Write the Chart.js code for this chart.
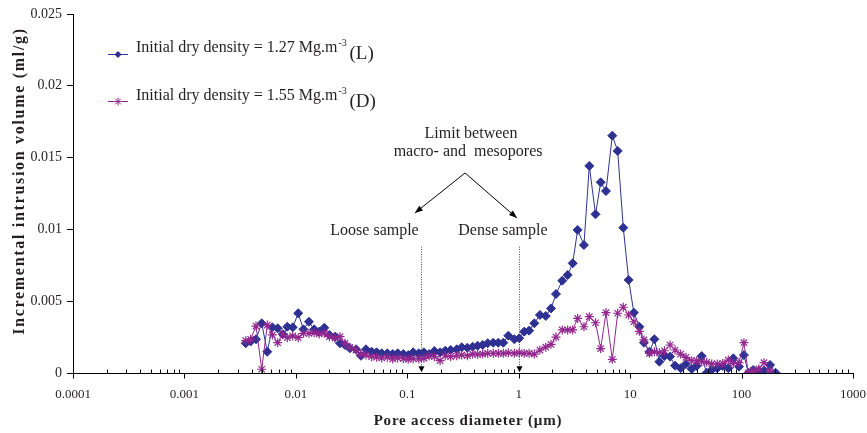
<!DOCTYPE html>
<html>
<head>
<meta charset="utf-8">
<script src="https://cdn.jsdelivr.net/npm/chart.js@4.4.0/dist/chart.umd.min.js"></script>
<style>
  body { margin: 0; background: #fff; }
  #wrap { width: 867px; height: 433px; }
</style>
</head>
<body>
<div id="wrap"><canvas id="pore-chart" width="867" height="433"></canvas></div>
<script>
// Pore access diameter (µm)
const diameters = [
  0.00355, 0.00393, 0.00439, 0.00494, 0.00554, 0.00615, 0.00687, 0.00762, 0.00838, 0.00937,
  0.0105, 0.0117, 0.0131, 0.0146, 0.0162, 0.0180, 0.0200, 0.0225, 0.0249, 0.0276,
  0.0306, 0.0347, 0.0384, 0.0426, 0.0479, 0.0531, 0.0589, 0.0662, 0.0740, 0.0820,
  0.0921, 0.102, 0.113, 0.127, 0.141, 0.157, 0.175, 0.197, 0.219, 0.245,
  0.278, 0.308, 0.346, 0.386, 0.428, 0.475, 0.527, 0.591, 0.656, 0.727,
  0.807, 0.913, 1.01, 1.12, 1.24, 1.38, 1.55, 1.75, 1.95, 2.16,
  2.46, 2.75, 3.05, 3.38, 3.85, 4.30, 4.89, 5.44, 6.07, 6.92,
  7.73, 8.68, 9.70, 10.8, 12.1, 13.3, 14.9, 16.5, 18.3, 20.3,
  22.8, 25.3, 28.4, 31.7, 35.7, 39.6, 43.9, 48.6, 53.9, 60.5,
  67.7, 76.0, 84.3, 94.8, 105, 115, 127, 143, 159, 180,
  202
];

// Incremental intrusion volume (ml/g), loose sample 1.27 Mg/m3
const volumeLoose = [
  0.00207, 0.0022, 0.00235, 0.00346, 0.00148, 0.00318, 0.00311, 0.0027, 0.00322, 0.00318,
  0.00416, 0.00304, 0.00357, 0.00304, 0.00288, 0.00315, 0.00265, 0.00253, 0.00207, 0.00195,
  0.00172, 0.00165, 0.0012, 0.00165, 0.00148, 0.00144, 0.00137, 0.00137, 0.00132, 0.00137,
  0.00132, 0.00125, 0.00144, 0.00137, 0.00144, 0.00132, 0.00153, 0.00144, 0.00155, 0.0016,
  0.00165, 0.00179, 0.00176, 0.00183, 0.0019, 0.00195, 0.00207, 0.00211, 0.00211, 0.00211,
  0.0026, 0.00235, 0.00242, 0.00288, 0.00295, 0.00346, 0.00404, 0.00397, 0.0045, 0.0055,
  0.00643, 0.00682, 0.00764, 0.00996, 0.00891, 0.01442, 0.01105, 0.01328, 0.01267, 0.01653,
  0.01546, 0.01012, 0.00648, 0.0042, 0.00322, 0.00211, 0.00148, 0.00235, 0.00079, 0.00118,
  0.00114, 0.00051, 0.00033, 0.00063, 0.00028, 0.00049, 0.00118, 0.00002, 0.00021, 0.00033,
  0.00049, 0.00033, 0.00102, 0.00044, 0.00125, 0, 0.00021, 0.00016, 0.00016, 0.00056,
  0.00002
];

// Incremental intrusion volume (ml/g), dense sample 1.55 Mg/m3
const volumeDense = [
  0.00225, 0.00235, 0.00327, 0.00026, 0.00334, 0.00265, 0.00211, 0.0027, 0.00246, 0.00258,
  0.00246, 0.00276, 0.00276, 0.0028, 0.00272, 0.00276, 0.00253, 0.00242, 0.00253, 0.00207,
  0.00179, 0.0016, 0.00132, 0.00125, 0.00114, 0.0011, 0.00105, 0.0011, 0.00098, 0.00105,
  0.001, 0.00095, 0.001, 0.00098, 0.00102, 0.00118, 0.00114, 0.00086, 0.0012, 0.00114,
  0.0012, 0.00125, 0.0012, 0.00132, 0.0013, 0.00132, 0.00137, 0.00137, 0.00137, 0.00137,
  0.00141, 0.00137, 0.00141, 0.00137, 0.00137, 0.00132, 0.0016, 0.0018, 0.002, 0.0025,
  0.003, 0.003, 0.003, 0.0038, 0.00322, 0.00392, 0.0035, 0.0017, 0.0042, 0.00095,
  0.00416, 0.00458, 0.00404, 0.00357, 0.0029, 0.0023, 0.00137, 0.00148, 0.00141, 0.00155,
  0.00195, 0.0016, 0.00132, 0.00109, 0.00086, 0.00086, 0.00079, 0.00074, 0.00063, 0.00063,
  0.00067, 0.0009, 0.00067, 0.00072, 0.00211, 0, 0.00016, 0.00028, 0.00072, 0.00016,
  null
];

// axis ticks
const xDecades = [0.0001, 0.001, 0.01, 0.1, 1, 10, 100, 1000];
const xTickLabels = ["0.0001", "0.001", "0.01", "0.1", "1", "10", "100", "1000"];
const yTickLabels = ["0", "0.005", "0.01", "0.015", "0.02", "0.025"];

// limit between macro- and mesopores for each sample (µm)
const limitLoose = 0.133;
const limitDense = 1.0;

const BLUE = "#2e3192";
const PURPLE = "#92278f";
const TEXT = "#231f20";
const SERIF = '"Liberation Serif", "Times New Roman", serif';

function toPoints(ys) {
  return diameters.map((d, i) => ({ x: d, y: ys[i] }));
}

// 畫 x 軸刻度、軸標題、說明文字、箭頭與圖例
const annotations = {
  id: "annotations",
  afterDraw(chart) {
    const { ctx, chartArea } = chart;
    const x = chart.scales.x;
    const y = chart.scales.y;
    const axisY = Math.round(chartArea.bottom) + 0.5;

    ctx.save();
    ctx.strokeStyle = "#000";
    ctx.lineWidth = 1;

    // log ticks: decades downwards, minor ones upwards
    ctx.beginPath();
    xDecades.forEach((d, i) => {
      const px = Math.round(x.getPixelForValue(d)) + 0.5;
      ctx.moveTo(px, axisY);
      ctx.lineTo(px, axisY + 5);
      if (i < xDecades.length - 1) {
        for (let k = 2; k <= 9; k++) {
          const mx = Math.round(x.getPixelForValue(k * d)) + 0.5;
          ctx.moveTo(mx, axisY);
          ctx.lineTo(mx, axisY - 4);
        }
      }
    });
    ctx.stroke();

    // axis titles (letter-spaced like the original)
    ctx.fillStyle = TEXT;
    ctx.font = "bold 15px " + SERIF;
    ctx.textAlign = "center";
    ctx.textBaseline = "alphabetic";
    if ("letterSpacing" in ctx) ctx.letterSpacing = "0.8px";
    ctx.fillText("Pore access diameter (µm)", (chartArea.left + chartArea.right) / 2 + 5, 425);
    ctx.save();
    ctx.translate(23.5, 181);
    ctx.rotate(-Math.PI / 2);
    ctx.font = "bold 16px " + SERIF;
    if ("letterSpacing" in ctx) ctx.letterSpacing = "1.7px";
    ctx.fillText("Incremental intrusion volume (ml/g)", 0, 0);
    ctx.restore();
    if ("letterSpacing" in ctx) ctx.letterSpacing = "0px";

    // dotted limit lines with small arrow heads
    [limitLoose, limitDense].forEach(v => {
      const px = Math.round(x.getPixelForValue(v)) + 0.5;
      const top = y.getPixelForValue(0.0088);
      const bot = y.getPixelForValue(0.0004);
      ctx.strokeStyle = "#444";
      ctx.setLineDash([1, 1.5]);
      ctx.beginPath();
      ctx.moveTo(px, top);
      ctx.lineTo(px, bot);
      ctx.stroke();
      ctx.setLineDash([]);
      ctx.fillStyle = "#000";
      ctx.beginPath();
      ctx.moveTo(px - 3, bot - 1);
      ctx.lineTo(px + 3, bot - 1);
      ctx.lineTo(px, bot + 5);
      ctx.closePath();
      ctx.fill();
    });

    // arrows from the label to each sample
    const apex = [x.getPixelForValue(0.33), y.getPixelForValue(0.01393)];
    const ends = [
      [x.getPixelForValue(0.117), y.getPixelForValue(0.01114)],
      [x.getPixelForValue(0.965), y.getPixelForValue(0.01079)]
    ];
    ctx.strokeStyle = "#000";
    ctx.fillStyle = "#000";
    ends.forEach(([ex, ey]) => {
      ctx.beginPath();
      ctx.moveTo(apex[0], apex[1]);
      ctx.lineTo(ex, ey);
      ctx.stroke();
      const ang = Math.atan2(ey - apex[1], ex - apex[0]);
      const len = 8, half = 3;
      ctx.beginPath();
      ctx.moveTo(ex, ey);
      ctx.lineTo(ex - len * Math.cos(ang) + half * Math.sin(ang), ey - len * Math.sin(ang) - half * Math.cos(ang));
      ctx.lineTo(ex - len * Math.cos(ang) - half * Math.sin(ang), ey - len * Math.sin(ang) + half * Math.cos(ang));
      ctx.closePath();
      ctx.fill();
    });

    // annotation texts
    ctx.fillStyle = TEXT;
    ctx.font = "16px " + SERIF;
    ctx.textAlign = "center";
    ctx.fillText("Limit between", x.getPixelForValue(0.373), y.getPixelForValue(0.01637));
    ctx.fillText("macro- and  mesopores", x.getPixelForValue(0.351), y.getPixelForValue(0.01511));
    ctx.fillText("Loose sample", x.getPixelForValue(0.0508), y.getPixelForValue(0.00961));
    ctx.fillText("Dense sample", x.getPixelForValue(0.722), y.getPixelForValue(0.00961));

    // legend
    const rows = [
      { color: BLUE, density: "1.27", tag: "(L)", lineY: 54, textY: 52, style: "diamond" },
      { color: PURPLE, density: "1.55", tag: "(D)", lineY: 101, textY: 99.5, style: "star" }
    ];
    ctx.textAlign = "left";
    rows.forEach(r => {
      ctx.strokeStyle = r.color;
      ctx.fillStyle = r.color;
      ctx.lineWidth = 1;
      ctx.beginPath();
      ctx.moveTo(108, r.lineY + 0.5);
      ctx.lineTo(128, r.lineY + 0.5);
      ctx.stroke();
      const cx = 118, cy = r.lineY + 0.5;
      ctx.beginPath();
      if (r.style === "diamond") {
        ctx.moveTo(cx, cy - 3.5);
        ctx.lineTo(cx + 3.5, cy);
        ctx.lineTo(cx, cy + 3.5);
        ctx.lineTo(cx - 3.5, cy);
        ctx.closePath();
        ctx.fill();
      } else {
        for (let a = 0; a < 4; a++) {
          const t = a * Math.PI / 4;
          ctx.moveTo(cx - 4 * Math.cos(t), cy - 4 * Math.sin(t));
          ctx.lineTo(cx + 4 * Math.cos(t), cy + 4 * Math.sin(t));
        }
        ctx.stroke();
      }
      ctx.fillStyle = TEXT;
      ctx.font = "16px " + SERIF;
      const main = "Initial dry density = " + r.density + " Mg.m";
      ctx.fillText(main, 136, r.textY);
      const w = ctx.measureText(main).width;
      ctx.font = "10px " + SERIF;
      ctx.fillText("-3", 136 + w + 1, r.textY - 6);
      ctx.font = "19px " + SERIF;
      ctx.fillText(r.tag, 136 + w + 12, r.textY + 7);
    });

    ctx.restore();
  }
};

new Chart(document.getElementById("pore-chart"), {
  type: "line",
  data: {
    datasets: [
      {
        label: "Initial dry density = 1.55 Mg.m-3 (D)",
        data: toPoints(volumeDense),
        borderColor: PURPLE,
        backgroundColor: PURPLE,
        borderWidth: 1,
        pointStyle: "star",
        pointRadius: 4.5,
        pointBorderWidth: 1.2,
        tension: 0,
        spanGaps: false
      },
      {
        label: "Initial dry density = 1.27 Mg.m-3 (L)",
        data: toPoints(volumeLoose),
        borderColor: BLUE,
        backgroundColor: BLUE,
        borderWidth: 1,
        pointStyle: "rectRot",
        pointRadius: 4.5,
        pointBorderWidth: 1,
        tension: 0
      }
    ]
  },
  options: {
    responsive: false,
    animation: false,
    layout: { padding: { top: 14, right: 14, left: 0, bottom: 0 } },
    plugins: {
      legend: { display: false },
      tooltip: { enabled: false }
    },
    scales: {
      x: {
        type: "logarithmic",
        min: 0.0001,
        max: 1000,
        afterBuildTicks: s => { s.ticks = xDecades.map(v => ({ value: v, major: true })); },
        afterFit: s => { s.height = 60; s.paddingLeft = 0; s.paddingRight = 0; },
        grid: { display: false, drawTicks: false },
        border: { display: true, color: "#000", width: 1 },
        ticks: {
          autoSkip: false,
          maxRotation: 0,
          padding: 14,
          color: TEXT,
          font: { family: SERIF, size: 13 },
          callback: (v, i) => xTickLabels[i]
        }
      },
      y: {
        min: 0,
        max: 0.025,
        afterFit: s => { s.width = 73; s.paddingTop = 0; s.paddingBottom = 0; },
        ticks: {
          stepSize: 0.005,
          padding: 5,
          color: TEXT,
          font: { family: SERIF, size: 14 },
          callback: (v, i) => yTickLabels[i]
        },
        grid: { drawOnChartArea: false, drawTicks: true, tickLength: 6, color: "#000" },
        border: { display: true, color: "#000", width: 1 }
      }
    }
  },
  plugins: [annotations]
});
</script>
</body>
</html>
